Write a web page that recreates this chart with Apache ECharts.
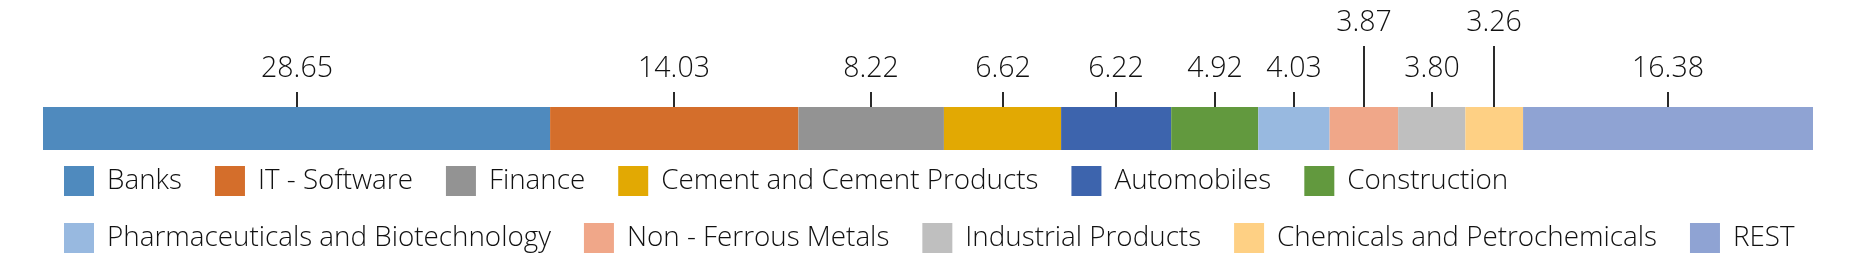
<!DOCTYPE html>
<html>
<head>
<meta charset="utf-8">
<script src="https://cdn.jsdelivr.net/npm/echarts@6/dist/echarts.min.js"></script>
<style>
html,body{margin:0;padding:0;background:#fff;}
#chart{width:1863px;height:269px;}
</style>
</head>
<body>
<div id="chart"></div>
<script>
const categories = ['Banks', 'IT - Software', 'Finance', 'Cement and Cement Products', 'Automobiles', 'Construction',
  'Pharmaceuticals and Biotechnology', 'Non - Ferrous Metals', 'Industrial Products', 'Chemicals and Petrochemicals', 'REST'];
const values = [28.65, 14.03, 8.22, 6.62, 6.22, 4.92, 4.03, 3.87, 3.80, 3.26, 16.38];
const colors = ['#4F8ABE', '#D46E2B', '#939393', '#E2A903', '#3D64AD', '#62993E', '#98B9E0', '#F0A789', '#BFBFBF', '#FED084', '#8FA3D3'];

const FONT = '"Open Sans", "Noto Sans", sans-serif';
const LABEL_FONT = '350 28.5px ' + FONT;
const GRID = {left: 43, right: 50, top: 107, height: 43};
const plotWidth = 1863 - GRID.left - GRID.right;
const total = values.reduce((a, b) => a + b, 0);
const pxPerUnit = plotWidth / total;

// measure label widths to decide which labels must be raised to avoid crowding
const ctx = document.createElement('canvas').getContext('2d');
ctx.font = LABEL_FONT;
let cum = 0;
let lastLowX = -1e9, lastLowW = 0;
const annot = values.map((v) => {
  const center = cum + v / 2;
  cum += v;
  const txt = v.toFixed(2);
  const w = ctx.measureText(txt).width;
  const px = center * pxPerUnit;
  let raised = 0;
  if (px - lastLowX < (w + lastLowW) / 2 + 20) {
    raised = 1;
  } else {
    lastLowX = px; lastLowW = w;
  }
  return [center, 0, v, raised];
});

const barSeries = categories.map((name, i) => ({
  name: name,
  type: 'bar',
  stack: 'total',
  barWidth: GRID.height,
  data: [values[i]],
  itemStyle: {color: colors[i]},
  emphasis: {disabled: true},
  silent: true
}));

const annotSeries = {
  name: 'annotations',
  type: 'custom',
  coordinateSystem: 'cartesian2d',
  clip: false,
  silent: true,
  encode: {x: 0, y: 1},
  data: annot,
  z: 10,
  renderItem: function (params, api) {
    const x = Math.round(api.coord([api.value(0), 0])[0]);
    const top = params.coordSys.y;
    const raised = api.value(3);
    const tickLen = raised ? 61 : 15;
    const tickTop = top - tickLen;
    return {
      type: 'group',
      children: [
        {type: 'line', shape: {x1: x, y1: top, x2: x, y2: tickTop},
          style: {stroke: '#2a2a2a', lineWidth: 2}},
        {type: 'text', x: x, y: tickTop - 23,
          style: {text: api.value(2).toFixed(2), fill: '#111111', font: LABEL_FONT,
            align: 'center', verticalAlign: 'middle'}}
      ]
    };
  }
};

const chart = echarts.init(document.getElementById('chart'), null, {renderer: 'canvas'});
chart.setOption({
  animation: false,
  backgroundColor: '#ffffff',
  grid: GRID,
  xAxis: {type: 'value', min: 0, max: 100, show: false},
  yAxis: {type: 'category', data: ['Portfolio'], show: false},
  legend: {
    data: categories,
    left: 64,
    top: 166,
    width: 1770,
    padding: 0,
    itemWidth: 30,
    itemHeight: 30,
    itemGap: 27,
    icon: 'rect',
    selectedMode: false,
    textStyle: {fontFamily: FONT, fontWeight: 350, fontSize: 27.8, color: '#111111', lineHeight: 30, padding: [0, 6, 0, 8]}
  },
  series: barSeries.concat([annotSeries])
});
</script>
</body>
</html>
